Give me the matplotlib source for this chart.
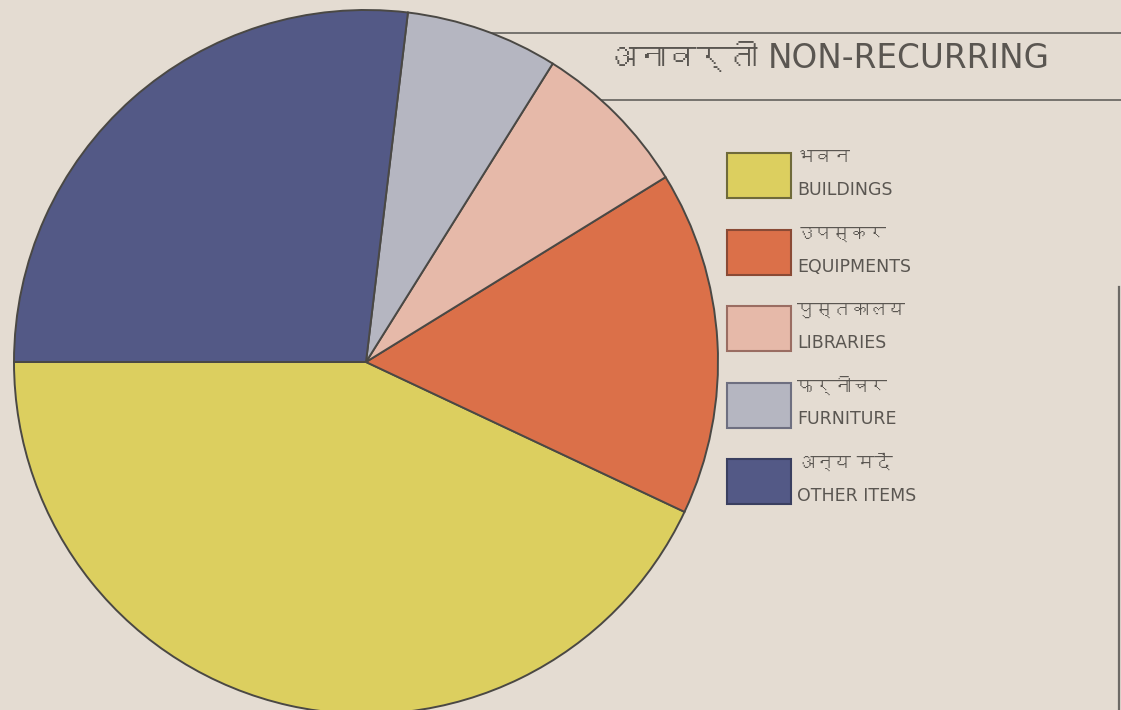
import matplotlib
matplotlib.use("Agg")
import matplotlib.pyplot as plt
from matplotlib import font_manager
from matplotlib.ft2font import FT2Font
from matplotlib.patches import Rectangle

# Non-recurring expenditure shares (percent)
labels_hi = ["भवन", "उपस्कर", "पुस्तकालय", "फर्नीचर", "अन्य मदें"]
labels_en = ["BUILDINGS", "EQUIPMENTS", "LIBRARIES", "FURNITURE", "OTHER ITEMS"]
shares = [43.0, 15.8, 7.3, 7.0, 26.9]
colors = ["#dccf5f", "#db7049", "#e6b9a9", "#b5b6c1", "#535986"]
edge_colors = ["#6f6a3a", "#8a4a35", "#9a6d62", "#6e6f80", "#3a3f60"]
title_hi = "अनावर्ती"
title_en = "NON-RECURRING"

bg = "#e4dcd2"
ink = "#5a5651"


# look for any installed font that has Devanagari glyphs
def find_deva_font():
    for f in font_manager.fontManager.ttflist:
        try:
            if 0x0915 in FT2Font(f.fname).get_charmap():
                return f.name
        except Exception:
            pass
    return None


deva = find_deva_font()
families = ["DejaVu Sans"] + ([deva] if deva else [])
plt.rcParams['font.family'] = families

fig = plt.figure(figsize=(11.21, 7.10), dpi=100, facecolor=bg)
ax = fig.add_axes([0, 0, 1, 1])
ax.set_facecolor(bg)

# pie, center and radius in pixel units of the canvas
wedges, _ = ax.pie(shares, colors=colors, startangle=180, counterclock=True,
                   center=(366, 348), radius=352,
                   wedgeprops=dict(edgecolor="#4a4844", linewidth=1.4))
for w in wedges:
    w.set_zorder(2)

ax.set_xlim(0, 1121)
ax.set_ylim(0, 710)
ax.set_aspect("equal")
ax.axis("off")

# title band lines and right border
ax.plot([473, 1121], [677, 677], color="#6d6a66", lw=1.3, zorder=1)
ax.plot([595, 1121], [610, 610], color="#6d6a66", lw=1.3, zorder=1)
ax.plot([1119, 1119], [0, 423], color="#6d6a66", lw=1.6, zorder=1)

ax.text(758, 652, title_hi, fontsize=22, color=ink,
        ha="right", va="center", zorder=3)
ax.text(768, 652, title_en, fontsize=23.5, color=ink,
        ha="left", va="center", zorder=3)

# hand drawn style legend
box_x, box_w, box_h = 727, 64, 45
top0, step = 153, 76.5
for i in range(len(shares)):
    top = 710 - (top0 + i * step)
    ax.add_patch(Rectangle((box_x, top - box_h), box_w, box_h,
                           facecolor=colors[i], edgecolor=edge_colors[i],
                           lw=1.5, zorder=3))
    ax.text(box_x + 70, top - 5, labels_hi[i], fontsize=13, color=ink,
            ha="left", va="center", zorder=3)
    ax.text(box_x + 70, top - 37, labels_en[i], fontsize=12.5, color=ink,
            ha="left", va="center", zorder=3)

fig.savefig("out.png", dpi=100, facecolor=bg)
